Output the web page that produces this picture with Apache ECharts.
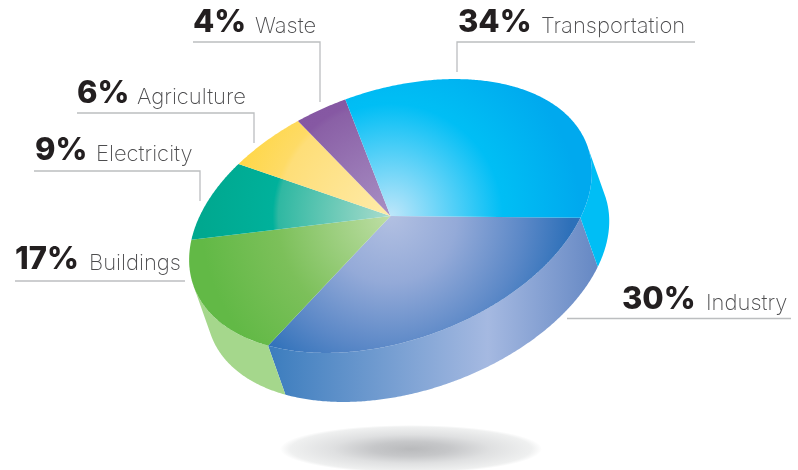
<!DOCTYPE html>
<html>
<head>
<meta charset="utf-8">
<style>html,body{margin:0;padding:0;background:#fff}#chart{width:798px;height:470px}</style>
<script src="https://cdn.jsdelivr.net/npm/echarts@6/dist/echarts.min.js"></script>
</head>
<body>
<div id="chart"></div>
<script>
// Emission shares, listed clockwise starting from the Industry slice.
const categories = ['Industry', 'Buildings', 'Electricity', 'Agriculture', 'Waste', 'Transportation'];
const shares = [30, 17, 9, 6, 4, 34];

// Tilted disc geometry: centre, semi-axes, tilt of the major axis, extrusion depth.
const disc = { cx: 390.5, cy: 216, a: 209, b: 125, tilt: 19.5 * Math.PI / 180, depth: 52, start: 31.4 };

// Top-face radial colours (hub, highlight edge, rim) and wall colours.
const topStops = {
  Industry: [[0, '#b2c0e2'], [0.35, '#94aad8'], [0.7, '#5b88c7'], [0.95, '#2d70b9'], [1, '#2d70b9']],
  Buildings: [[0, '#bedea5'], [0.6, '#7cc05a'], [1, '#62b946']],
  Electricity: [[0, '#aadccd'], [0.59, '#2fb8a2'], [0.62, '#00b19b'], [1, '#00a88f']],
  Agriculture: [[0, '#feebaa'], [0.59, '#fede78'], [0.62, '#fedb66'], [1, '#ffd432']],
  Waste: [[0, '#a88fc4'], [0.59, '#8a60a6'], [0.62, '#8658a3'], [1, '#8255a0']],
  Transportation: [[0, '#bee6fa'], [0.59, '#00bef5'], [0.62, '#00bdf4'], [1, '#00a9ee']]
};
const wallFills = {
  Industry: [[0, '#3c7dbe'], [0.66, '#a5b9e1'], [1, '#6487c3']],
  Buildings: [[0, '#a5d78c'], [1, '#a5d78c']],
  Transportation: [[0, '#00bef5'], [1, '#00bef5']]
};

// Callouts: text anchors and the leader polyline of each category.
const callouts = {
  Transportation: { px: 458, nx: 541, y: 23, line: [[695, 42], [457, 42], [457, 72]] },
  Waste: { px: 193, nx: 255, y: 23, line: [[193, 42], [320, 42], [320, 102]] },
  Agriculture: { px: 77, nx: 137, y: 94, line: [[77, 113], [254, 113], [254, 143]] },
  Electricity: { px: 35, nx: 96, y: 151, line: [[34, 171], [200, 171], [200, 201]] },
  Buildings: { px: 15, nx: 89, y: 260, line: [[15, 281], [185, 281]] },
  Industry: { px: 622, nx: 706, y: 300, line: [[567, 318.5], [791, 318.5]] }
};

const rad = d => d * Math.PI / 180;
const total = shares.reduce((s, v) => s + v, 0);

// Maps a disc angle (degrees, clockwise from the major axis) to page coordinates.
function project(deg, drop) {
  const x = disc.a * Math.cos(rad(deg));
  const y = disc.b * Math.sin(rad(deg)) + (drop || 0);
  return [
    disc.cx + x * Math.cos(disc.tilt) + y * Math.sin(disc.tilt),
    disc.cy - x * Math.sin(disc.tilt) + y * Math.cos(disc.tilt)
  ];
}
function arc(from, to, drop) {
  const pts = [];
  const n = Math.max(2, Math.ceil(Math.abs(to - from) * 2));
  for (let i = 0; i <= n; i++) pts.push(project(from + (to - from) * i / n, drop));
  return pts;
}
const stops = list => list.map(s => ({ offset: s[0], color: s[1] }));

function renderSlice(params, api) {
  const name = categories[params.dataIndex];
  let before = 0;
  for (let i = 0; i < params.dataIndex; i++) before += shares[i];
  const t0 = disc.start + before / total * 360;
  const t1 = t0 + api.value(0) / total * 360;
  const children = [];

  // The side wall is only visible on the near half of the rim.
  [[0, 180], [360, 540]].forEach(range => {
    const from = Math.max(t0, range[0]);
    const to = Math.min(t1, range[1]);
    if (to <= from || !wallFills[name]) return;
    const top = arc(from, to, 0);
    const bottom = arc(to, from, disc.depth);
    children.push({
      type: 'polygon',
      shape: { points: top.concat(bottom) },
      style: {
        fill: {
          type: 'linear', global: true, x: 270, y: 0, x2: 600, y2: 0,
          colorStops: stops(wallFills[name])
        }
      }
    });
  });

  children.push({
    type: 'polygon',
    shape: { points: [[disc.cx, disc.cy]].concat(arc(t0, t1, 0)) },
    style: {
      fill: {
        type: 'radial', global: true, x: disc.cx, y: disc.cy, r: 190,
        colorStops: stops(topStops[name])
      }
    }
  });
  return { type: 'group', children };
}

// Leader lines and text labels for each slice.
const overlay = [];
categories.forEach((name, i) => {
  const c = callouts[name];
  overlay.push({
    type: 'polyline',
    shape: { points: c.line },
    style: { stroke: '#bcbec0', lineWidth: 1.3, fill: null }
  });
  overlay.push({
    type: 'text', x: c.px, y: c.y,
    style: {
      text: shares[i] + '%', fill: '#231f20',
      font: '800 31px Inter', verticalAlign: 'middle'
    }
  });
  overlay.push({
    type: 'text', x: c.nx, y: c.y + 3,
    style: {
      text: name, fill: '#4d4d4f',
      font: '200 22px Inter', verticalAlign: 'middle'
    }
  });
});

const chart = echarts.init(document.getElementById('chart'), null, { renderer: 'canvas' });
chart.setOption({
  backgroundColor: '#ffffff',
  animation: false,
  graphic: [
    // Soft contact shadow under the disc.
    {
      type: 'circle', x: 411, y: 449, scaleY: 24 / 131, z: 0,
      shape: { cx: 0, cy: 0, r: 131 },
      style: {
        fill: {
          type: 'radial', global: true, x: 0, y: 0, r: 131,
          colorStops: stops([[0, '#b9babc'], [0.3, '#c6c7c9'], [0.6, '#dfe0e1'], [0.92, '#eff0f0'], [1, '#ffffff']])
        }
      }
    }
  ].concat(overlay),
  series: [{
    type: 'custom',
    coordinateSystem: 'none',
    silent: true,
    data: shares.map(v => [v]),
    renderItem: renderSlice
  }]
});
</script>
</body>
</html>
